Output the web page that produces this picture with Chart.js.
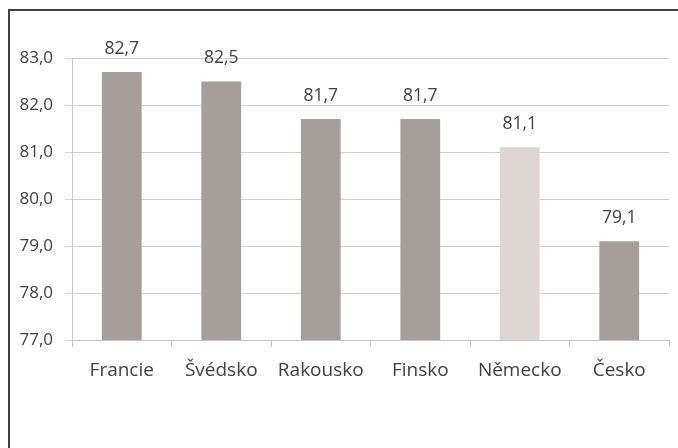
<!DOCTYPE html>
<html><head><meta charset="utf-8">
<script src="https://cdn.jsdelivr.net/npm/chart.js@4/dist/chart.umd.min.js"></script>
<style>
html,body{margin:0;padding:0;background:#fff;overflow:hidden}
#wrap{position:relative;width:678px;height:448px}
#frame{position:absolute;left:8px;top:9px;width:700px;height:500px;border-left:2px solid #404040;border-top:2px solid #404040;box-sizing:border-box}
canvas{position:absolute;left:0;top:0}
</style></head>
<body><div id="wrap"><div id="frame"></div><canvas id="c" width="678" height="448"></canvas></div>
<script>
const categories = ["Francie","Švédsko","Rakousko","Finsko","Německo","Česko"];
const values = [82.7, 82.5, 81.7, 81.7, 81.1, 79.1];
const yTicks = [77,78,79,80,81,82,83];
const barColors = ["#a69e9b","#a69e9b","#a69e9b","#a69e9b","#ddd5d2","#a69e9b"];
const FONT = "'Open Sans', sans-serif";
const TXT = "#404040";
const fmt = v => v.toFixed(1).replace('.', ',');

const labelPlugin = {
  id:'lbl',
  afterDatasetsDraw(chart){
    const ctx = chart.ctx;
    const meta = chart.getDatasetMeta(0);
    ctx.save();
    ctx.font = "17.5px " + FONT;
    ctx.fillStyle = TXT;
    ctx.textAlign = 'center';
    ctx.textBaseline = 'middle';
    meta.data.forEach((b,i)=>{
      ctx.fillText(fmt(values[i]), b.x, b.y - 23);
    });
    ctx.restore();
  }
};

new Chart(document.getElementById('c'), {
  type:'bar',
  data:{labels:categories, datasets:[{data:values, backgroundColor:barColors, categoryPercentage:0.8, barPercentage:0.5}]},
  options:{
    responsive:false, animation:false,
    layout:{padding:{top:58,right:9,left:0,bottom:0}},
    plugins:{legend:{display:false}, tooltip:{enabled:false}},
    scales:{
      x:{
        grid:{display:true, drawOnChartArea:false, drawTicks:true, tickLength:7, color:'#c8c4c3', offset:true},
        border:{display:true, color:'#c8c4c3', width:1},
        ticks:{color:TXT, font:{family:FONT, size:19}, padding:12, maxRotation:0},
        afterFit(s){ s.height = 108; }
      },
      y:{
        min:77, max:83,
        afterBuildTicks(s){ s.ticks = yTicks.map(v=>({value:v})); },
        grid:{color:'#d3cfce', tickLength:7, lineWidth:1},
        border:{display:true, color:'#c8c4c3'},
        ticks:{color:TXT, font:{family:FONT, size:17}, padding:12, callback:v=>fmt(v)},
        afterFit(s){ s.width = 72; }
      }
    }
  },
  plugins:[labelPlugin]
});
</script></body></html>
